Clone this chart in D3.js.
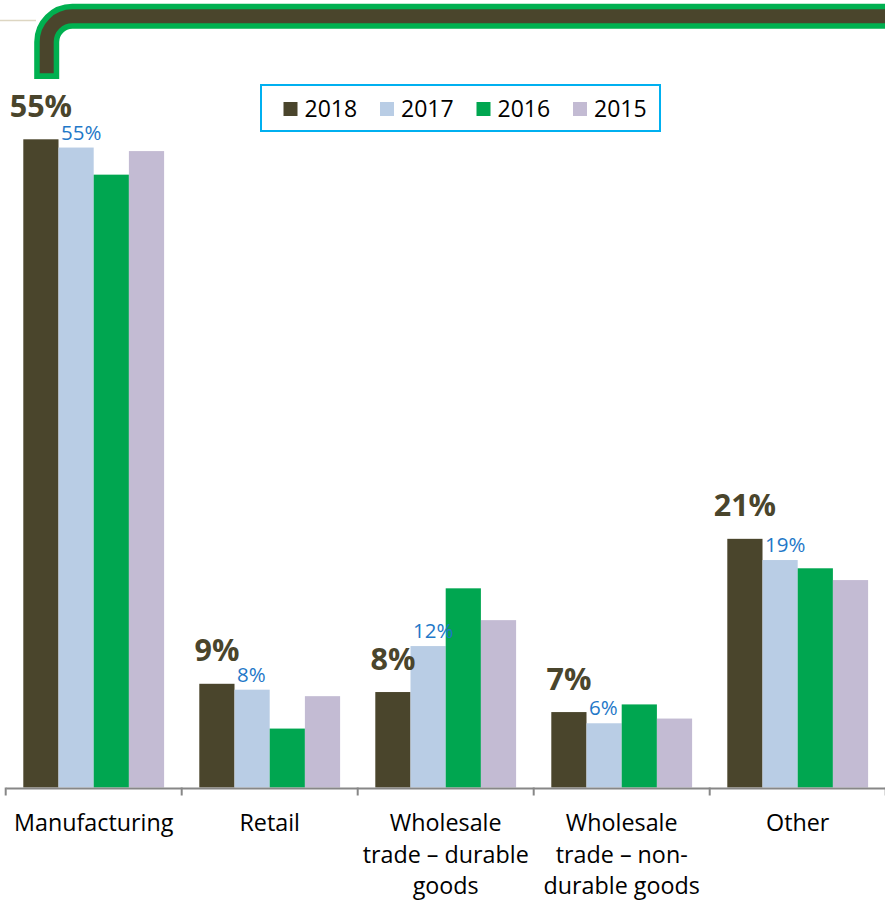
<!DOCTYPE html>
<html>
<head>
<meta charset="utf-8">
<script src="https://cdn.jsdelivr.net/npm/d3@7"></script>
<style>
  html, body { margin: 0; padding: 0; background: #ffffff; }
  svg { display: block; }
</style>
</head>
<body>
<svg id="chart" width="885" height="909"></svg>
<script>
// ---- data ----
const categories = ["Manufacturing", "Retail", "Wholesale trade – durable goods", "Wholesale trade – non-durable goods", "Other"];
const categoryLines = [
  ["Manufacturing"],
  ["Retail"],
  ["Wholesale", "trade – durable", "goods"],
  ["Wholesale", "trade – non-", "durable goods"],
  ["Other"]
];
const years = ["2018", "2017", "2016", "2015"];
const values2018 = [55.0, 8.8, 8.1, 6.4, 21.1];
const values2017 = [54.3, 8.3, 12.0, 5.45, 19.3];
const values2016 = [52.0, 5.0, 16.9, 7.05, 18.6];
const values2015 = [54.0, 7.75, 14.2, 5.85, 17.6];
const labels2018 = ["55%", "9%", "8%", "7%", "21%"];
const labels2017 = ["55%", "8%", "12%", "6%", "19%"];
const colors = ["#4A452C", "#B9CDE5", "#00A650", "#C3BBD3"];

const series = [values2018, values2017, values2016, values2015];

const svg = d3.select("#chart");
const FONT = "'Open Sans', 'Noto Sans', sans-serif";

// ---- decoration at top ----
function decoPath(yEnd) {
  const p = d3.path();
  p.moveTo(46.7, yEnd);
  p.lineTo(46.7, 42);
  p.arcTo(46.7, 16.3, 72.4, 16.3, 25.7);
  p.lineTo(900, 16.3);
  return p.toString();
}
svg.append("path").attr("d", decoPath(79))
  .attr("fill", "none").attr("stroke", "#00B050").attr("stroke-width", 25);
svg.append("path").attr("d", decoPath(73.3))
  .attr("fill", "none").attr("stroke", "#4A452C").attr("stroke-width", 14);
svg.append("line").attr("x1", 0).attr("x2", 36).attr("y1", 20.5).attr("y2", 20.5)
  .attr("stroke", "#DDD6C2").attr("stroke-width", 1.5);

// ---- scales ----
const baseY = 787.5;
const y = d3.scaleLinear().domain([0, 55]).range([baseY, 139.3]);
const x0 = d3.scaleBand().domain(categories).range([5.7, 885.7]).padding(0);
const x1 = d3.scaleBand().domain(years)
  .range([x0.bandwidth() * 0.1, x0.bandwidth() * 0.9]).padding(0);

// ---- bars ----
const groups = svg.append("g").selectAll("g")
  .data(categories)
  .join("g")
  .attr("transform", d => `translate(${x0(d)},0)`);

groups.selectAll("rect")
  .data((d, i) => years.map((yr, j) => ({ yr, v: series[j][i], c: colors[j] })))
  .join("rect")
  .attr("x", d => x1(d.yr))
  .attr("width", x1.bandwidth())
  .attr("y", d => y(d.v))
  .attr("height", d => baseY - y(d.v))
  .attr("fill", d => d.c);

// ---- axis ----
const axis = d3.axisBottom(x0).tickSize(0).tickFormat("");
const axG = svg.append("g").attr("transform", `translate(0,${baseY + 0.5})`).call(axis);
axG.select(".domain").attr("stroke", "#878787").attr("stroke-width", 2);
axG.selectAll(".tick").remove();
const bounds = categories.map(c => x0(c)).concat([x0.range()[1]]);
svg.append("g").selectAll("line").data(bounds).join("line")
  .attr("x1", d => d).attr("x2", d => d)
  .attr("y1", baseY).attr("y2", baseY + 8)
  .attr("stroke", "#878787").attr("stroke-width", 2);

// category labels
const catG = svg.append("g");
categories.forEach((c, i) => {
  const t = catG.append("text")
    .attr("x", x0(c) + x0.bandwidth() / 2)
    .attr("y", 831)
    .attr("text-anchor", "middle")
    .attr("font-family", FONT)
    .attr("font-size", 23.3)
    .attr("fill", "#000");
  categoryLines[i].forEach((ln, k) => {
    t.append("tspan").attr("x", x0(c) + x0.bandwidth() / 2)
      .attr("dy", k === 0 ? 0 : 31.5).text(ln);
  });
});

// ---- data labels ----
svg.append("g").selectAll("text").data(categories).join("text")
  .attr("x", d => x0(d) + x1("2018") + x1.bandwidth() / 2)
  .attr("y", (d, i) => y(values2018[i]) - 22.5)
  .attr("text-anchor", "middle")
  .attr("font-family", FONT)
  .attr("font-weight", "bold")
  .attr("font-size", 30.5)
  .attr("fill", "#4A452C")
  .text((d, i) => labels2018[i]);

svg.append("g").selectAll("text").data(categories).join("text")
  .attr("x", d => x0(d) + x1("2017") + 2.5)
  .attr("y", (d, i) => y(values2017[i]) - 8)
  .attr("text-anchor", "start")
  .attr("font-family", FONT)
  .attr("font-size", 20.5)
  .attr("fill", "#1F78C8")
  .text((d, i) => labels2017[i]);

// ---- legend ----
const leg = svg.append("g");
leg.append("rect").attr("x", 261).attr("y", 85).attr("width", 399).attr("height", 46)
  .attr("fill", "#fff").attr("stroke", "#00B0F0").attr("stroke-width", 2);
const legX = d3.scalePoint().domain(years).range([283.5, 573]);
const items = leg.selectAll("g.item").data(years).join("g").attr("class", "item")
  .attr("transform", d => `translate(${legX(d)},0)`);
items.append("rect").attr("x", 0).attr("y", 102).attr("width", 14).attr("height", 14)
  .attr("fill", (d, i) => colors[i]);
items.append("text").attr("x", 21).attr("y", 116.5)
  .attr("font-family", FONT).attr("font-size", 23).attr("fill", "#000")
  .text(d => d);
</script>
</body>
</html>
